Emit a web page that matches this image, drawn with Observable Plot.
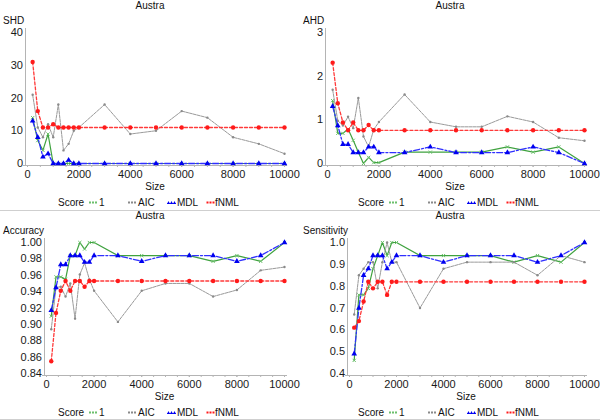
<!DOCTYPE html>
<html><head><meta charset="utf-8">
<script src="https://cdn.jsdelivr.net/npm/d3@7"></script>
<script src="https://cdn.jsdelivr.net/npm/@observablehq/plot@0.6"></script>
<style>
body{margin:0;background:#fff;font-family:"Liberation Sans",Arial,sans-serif;}
#fig{position:relative;width:600px;height:420px;overflow:hidden;background:#fff;}
.panel{position:absolute;width:300px;height:210px;}
.title{position:absolute;top:0;left:0;width:300px;text-align:center;font-size:10px;line-height:12px;color:#111;}
.ylab{position:absolute;top:14px;left:3px;font-size:10px;line-height:14px;color:#111;}
.plot{position:absolute;top:12px;left:0;}
.legend{position:absolute;top:196px;left:0;width:300px;height:14px;font-size:10px;line-height:14px;color:#111;}
.legend span,.legend svg{position:absolute;}
.hsep{position:absolute;left:0;width:600px;height:1px;background:#cfcfcf;}
</style>
</head><body>
<div id="fig"></div>
<script>
// ---- data ----
const sizes = [200,400,600,800,1000,1200,1400,1600,1800,2000,3000,4000,5000,6000,7000,8000,9000,10000];
const scoreNames = ["1","AIC","MDL","fNML"];
const panelTitle = "Austra";

const shd_1    = [14,7,4,9,0,0,0,0,0,0,0,0,0,0,0,0,0,0];
const shd_aic  = [21,11,8,12,8,18,4,6,10,11,18,9,10,16,14,8,6,3];
const shd_mdl  = [13,8,2,3,0,0,0,1,0,0,0,0,0,0,0,0,0,0];
const shd_fnml = [31,16,11,11,12,11,11,11,11,11,11,11,11,11,11,11,11,11];

const ahd_1    = [1.44,0.69,0.69,0.79,0.53,0.26,0.0,0.14,0.02,0.02,0.26,0.26,0.26,0.26,0.38,0.26,0.38,0.0];
const ahd_aic  = [1.69,0.98,0.87,1.07,0.81,1.50,0.62,0.38,0.78,0.95,1.58,0.95,0.84,0.84,1.08,0.95,0.59,0.52];
const ahd_mdl  = [1.31,0.87,0.44,0.44,0.25,0.25,0.25,0.38,0.38,0.25,0.25,0.38,0.25,0.25,0.25,0.38,0.25,0.0];
const ahd_fnml = [2.31,1.38,0.94,0.76,0.94,0.76,0.76,0.88,0.76,0.76,0.76,0.76,0.76,0.76,0.76,0.76,0.76,0.76];

const acc_1    = [0.910,0.958,0.958,0.955,0.984,0.984,1.0,0.992,1.0,1.0,0.984,0.984,0.984,0.984,0.977,0.984,0.977,1.0];
const acc_aic  = [0.894,0.945,0.946,0.934,0.950,0.907,0.961,0.975,0.955,0.941,0.903,0.941,0.950,0.950,0.934,0.942,0.966,0.970];
const acc_mdl  = [0.917,0.945,0.973,0.973,0.984,0.984,0.984,0.976,0.976,0.984,0.984,0.977,0.984,0.984,0.984,0.977,0.984,1.0];
const acc_fnml = [0.855,0.914,0.941,0.953,0.941,0.953,0.953,0.946,0.953,0.953,0.953,0.953,0.953,0.953,0.953,0.953,0.953,0.953];

const sen_1    = [0.46,0.76,0.76,0.79,0.88,0.94,1.0,0.94,1.0,1.0,0.94,0.94,0.94,0.94,0.91,0.94,0.91,1.0];
const sen_aic  = [0.67,0.85,0.88,0.91,0.91,0.79,0.91,1.0,0.91,0.91,0.70,0.88,0.91,0.91,0.91,0.85,0.94,0.91];
const sen_mdl  = [0.49,0.70,0.85,0.88,0.94,0.94,0.94,0.88,0.91,0.94,0.94,0.91,0.94,0.94,0.94,0.91,0.94,1.0];
const sen_fnml = [0.61,0.64,0.73,0.82,0.79,0.82,0.82,0.76,0.82,0.82,0.82,0.82,0.82,0.82,0.82,0.82,0.82,0.82];

const xTicks = [0,2000,4000,6000,8000,10000];

// ---- styles ----
const styles = {
  "1":    {line:"#3fa23f", mark:"#6cc06c", dash:null,      symbol:"times",    r:1.6, fill:false, w:1.2},
  "AIC":  {line:"#9a9a9a", mark:"#8a8a8a", dash:"3,1",     symbol:"circle",   r:1.2, fill:true,  w:1},
  "MDL":  {line:"#3030ff", mark:"#0000f0", dash:"6,2,2,2", symbol:"triangle", r:2.1, fill:true,  w:1.3},
  "fNML": {line:"#ff3a3a", mark:"#ff1a1a", dash:"3,2",     symbol:"circle",   r:2.2, fill:true,  w:1.3}
};

const fig = document.getElementById("fig");

function makePanel(left, top, cfg){
  const p = document.createElement("div");
  p.className = "panel"; p.style.left = left+"px"; p.style.top = top+"px";
  const t = document.createElement("div"); t.className="title"; t.textContent = panelTitle; p.appendChild(t);

  const W = 300, H = 182, mTop = 20, mBottom = 29, mRight = 16;
  const mLeft = cfg.x0 - 2;
  const seriesVals = [cfg.s1, cfg.aic, cfg.mdl, cfg.fnml];
  const marks = [];
  // axis lines
  marks.push(Plot.ruleY([cfg.yDomain[0]], {dy: 2, insetLeft: -2, insetRight: -3, stroke: "#b4b4b4"}));
  marks.push(Plot.ruleX([0], {dx: -2, insetTop: -4, stroke: "#b4b4b4"}));
  scoreNames.forEach((name, k) => {
    const st = styles[name];
    const data = sizes.map((s, i) => ({size: s, v: seriesVals[k][i]}));
    marks.push(Plot.line(data, {x: "size", y: "v", stroke: st.line, strokeWidth: st.w, strokeDasharray: st.dash}));
    marks.push(Plot.dot(data, {x: "size", y: "v", symbol: st.symbol, r: st.r,
      fill: st.fill ? st.mark : "none", stroke: st.fill ? "none" : st.mark, strokeWidth: 1}));
  });
  marks.push(Plot.axisX({ticks: d3.range(0, 10001, 500), tickSize: 2, tickFormat: () => "", stroke: "#b4b4b4"}));
  marks.push(Plot.axisX({ticks: xTicks, tickSize: 2, tickPadding: 3, tickFormat: d3.format("d"), fontSize: 11, fill: "#1a1a1a", stroke: "#b4b4b4"}));
  marks.push(Plot.axisY({ticks: cfg.yTicks, tickSize: 0, tickPadding: 2.5, tickFormat: d3.format(cfg.yFormat), fontSize: 11, fill: "#1a1a1a"}));
  marks.push(Plot.text(["Size"], {text: d => d, frameAnchor: "bottom", dy: 24, fontSize: 10, fill: "#111"}));

  const svg = Plot.plot({
    width: W, height: H,
    marginTop: mTop, marginBottom: mBottom, marginLeft: mLeft, marginRight: mRight,
    style: {fontFamily: '"Liberation Sans", Arial, sans-serif', background: "transparent", overflow: "visible"},
    x: {domain: [0, 10000], insetLeft: 2, label: null, axis: null},
    y: {domain: cfg.yDomain, insetBottom: 2, label: null, axis: null},
    marks
  });
  const holder = document.createElement("div"); holder.className = "plot"; holder.appendChild(svg);
  p.appendChild(holder);

  const yl = document.createElement("div"); yl.className = "ylab"; yl.textContent = cfg.ylabel; p.appendChild(yl);

  // legend
  const lg = document.createElement("div"); lg.className = "legend";
  const items = [["Score",58,null],["1",99,"1"],["AIC",138,"AIC"],["MDL",177,"MDL"],["fNML",215,"fNML"]];
  const swX = {"1":89,"AIC":128,"MDL":167,"fNML":206};
  let html = "";
  items.forEach(([label, x, key]) => {
    if (key) {
      const st = styles[key];
      let inner = "";
      if (key === "MDL") {
        inner = `<line x1="0" y1="4.5" x2="9" y2="4.5" stroke="${st.line}" stroke-width="1"/>` +
          [1.5,4.5,7.5].map(c => `<path d="M${c-1.5},5 L${c},2 L${c+1.5},5 Z" fill="${st.mark}"/>`).join("");
      } else if (key === "fNML") {
        inner = [1.5,4.5,7.5].map(c => `<rect x="${c-1}" y="2.5" width="2" height="2" fill="${st.mark}"/>`).join("");
      } else {
        inner = `<line x1="0" y1="3.5" x2="9" y2="3.5" stroke="${st.mark}" stroke-width="2" stroke-dasharray="2,1"/>`;
      }
      html += `<svg width="9" height="7" style="left:${swX[key]}px;top:3px">${inner}</svg>`;
    }
    html += `<span style="left:${x}px">${label}</span>`;
  });
  lg.innerHTML = html;
  p.appendChild(lg);
  fig.appendChild(p);
}

makePanel(0, 0,   {ylabel:"SHD", yDomain:[0,40], yTicks:[0,10,20,30,40], yFormat:"d", x0:27, s1:shd_1, aic:shd_aic, mdl:shd_mdl, fnml:shd_fnml});
makePanel(300, 0, {ylabel:"AHD", yDomain:[0,3], yTicks:[0,1,2,3], yFormat:"d", x0:27, s1:ahd_1, aic:ahd_aic, mdl:ahd_mdl, fnml:ahd_fnml});
makePanel(0, 210, {ylabel:"Accuracy", yDomain:[0.84,1.0], yTicks:[0.84,0.86,0.88,0.90,0.92,0.94,0.96,0.98,1.00], yFormat:".2f", x0:46, s1:acc_1, aic:acc_aic, mdl:acc_mdl, fnml:acc_fnml});
makePanel(300, 210, {ylabel:"Sensitivity", yDomain:[0.4,1.0], yTicks:[0.4,0.5,0.6,0.7,0.8,0.9,1.0], yFormat:".1f", x0:49, s1:sen_1, aic:sen_aic, mdl:sen_mdl, fnml:sen_fnml});

[210, 419].forEach(y => { const d = document.createElement("div"); d.className = "hsep"; d.style.top = y+"px"; fig.appendChild(d); });
</script>
</body></html>
